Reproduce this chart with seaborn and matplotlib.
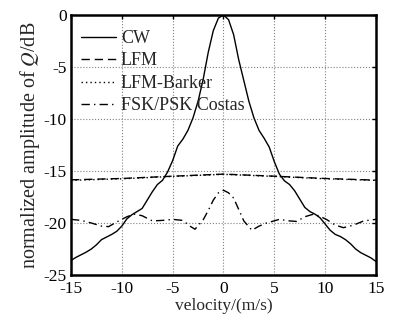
import numpy as np
import pandas as pd
import matplotlib
matplotlib.use("Agg")
import matplotlib.pyplot as plt
import seaborn as sns

# velocity axis samples (m/s)
cw_v = [-15, -14.5, -14, -13.5, -13, -12.5, -12, -11.5, -11, -10.5, -10, -9.5, -9, -8.5,
        -8, -7.5, -7, -6.5, -6, -5.5, -5, -4.5, -4, -3.5, -3, -2.5, -2, -1.5, -1, -0.5,
        0, 0.5, 1, 1.5, 2, 2.5, 3, 3.5, 4, 4.5, 5, 5.5, 6, 6.5, 7, 7.5, 8, 8.5, 9, 9.5,
        10, 10.5, 11, 11.5, 12, 12.5, 13, 13.5, 14, 14.5, 15]
cw_db = [-23.6, -23.3, -23.05, -22.8, -22.5, -22.1, -21.6, -21.35, -21.1, -20.8, -20.3,
         -19.6, -19.2, -18.9, -18.6, -17.8, -17.0, -16.3, -15.9, -15.1, -14.0, -12.6,
         -11.95, -11.1, -9.9, -8.3, -6.2, -3.6, -1.5, -0.3,
         0.0, -0.45, -1.9, -4.3, -6.3, -8.3, -9.9, -11.1, -11.85, -12.7, -14.1, -15.3,
         -15.95, -16.3, -16.9, -17.7, -18.5, -18.9, -19.15, -19.5, -20.1, -20.7, -21.1,
         -21.3, -21.6, -22.0, -22.5, -22.85, -23.1, -23.35, -23.7]

lfm_v = [-15, -10, -5, 0, 5, 10, 15]
lfm_db = [-15.85, -15.72, -15.5, -15.3, -15.5, -15.72, -15.88]
barker_db = [-15.9, -15.75, -15.52, -15.32, -15.52, -15.75, -15.9]

costas_v = [-15, -14, -13, -12, -11.3, -10.5, -9.5, -8.8, -8, -7, -6, -5, -4, -3.3, -2.8,
            -2, -1.5, -1, -0.5, 0, 0.5, 1, 1.5, 2, 2.8, 3.5, 4.25, 5.5, 6.5, 7.2, 8,
            8.85, 9.5, 10.2, 11, 11.8, 12.8, 13.8, 15]
costas_db = [-19.65, -19.75, -20.0, -20.3, -20.35, -19.9, -19.4, -19.15, -19.3, -19.8,
             -19.75, -19.65, -19.75, -20.3, -20.6, -19.7, -18.8, -17.8, -17.1, -16.85,
             -17.1, -17.6, -18.7, -19.8, -20.7, -20.3, -20.0, -19.65, -19.8, -19.85,
             -19.4, -19.15, -19.35, -19.7, -20.2, -20.45, -20.2, -19.8, -19.65]

sns.set_style("white")
plt.rcParams["font.family"] = ["Liberation Serif", "DejaVu Serif"]
plt.rcParams["mathtext.fontset"] = "stix"
plt.rcParams["axes.unicode_minus"] = False

fig = plt.figure(figsize=(3.97, 3.23), dpi=100)
ax = fig.add_axes([0.1788, 0.1486, 0.7682, 0.805])

sns.lineplot(x=cw_v, y=cw_db, ax=ax, color="black", lw=1.0, label="CW")
sns.lineplot(x=lfm_v, y=lfm_db, ax=ax, color="black", lw=1.0, label="LFM",
             dashes=False)
ax.lines[-1].set_dashes([6, 3.5])
sns.lineplot(x=lfm_v, y=barker_db, ax=ax, color="black", lw=1.0, label="LFM-Barker")
ax.lines[-1].set_dashes([1, 2.2])
sns.lineplot(x=costas_v, y=costas_db, ax=ax, color="black", lw=1.0,
             label="FSK/PSK Costas")
ax.lines[-1].set_dashes([6, 3, 1, 3])

ax.set_xlim(-15, 15)
ax.set_ylim(-25, 0)
ax.set_xticks([-15, -10, -5, 0, 5, 10, 15])
ax.set_yticks([0, -5, -10, -15, -20, -25])
ax.grid(True, linestyle=":", color="0.5", lw=0.8)
for s in ax.spines.values():
    s.set_linewidth(1.8)
    s.set_color("black")
ax.tick_params(direction="in", length=3, width=1, top=True, right=True,
               labelsize=12.5, colors="black")
ax.tick_params(axis="x", pad=4)
ax.tick_params(axis="y", pad=3)

ax.set_xlabel("velocity/(m/s)", fontsize=12.5, labelpad=1)
ax.set_ylabel(r"normalized amplitude of $\mathit{Q}$/dB", fontsize=14.5, labelpad=1)

leg = ax.legend(loc="upper left", bbox_to_anchor=(0.01, 0.97), frameon=False,
                fontsize=13, handlelength=1.9, handletextpad=0.3, labelspacing=0.3,
                borderaxespad=0.0)

fig.savefig("out.png", dpi=100)
